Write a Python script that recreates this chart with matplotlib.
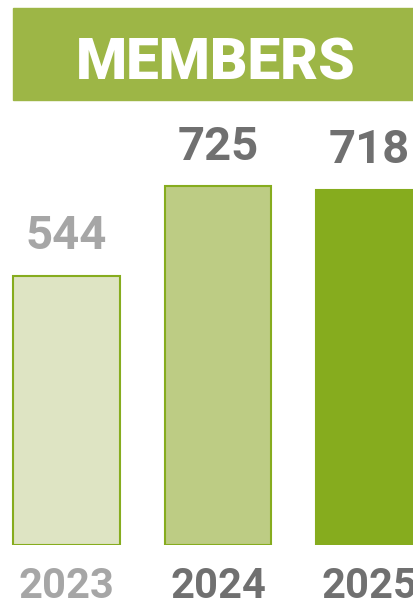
import matplotlib.pyplot as plt
from matplotlib.patches import Rectangle
from matplotlib.transforms import blended_transform_factory

years = ['2023', '2024', '2025']
members = [544, 725, 718]
fills = ['#dee4c3', '#bdcc84', '#86ac1e']
text_cols = ['#a6a6a6', '#707070', '#707070']

W, H = 414, 606
fig = plt.figure(figsize=(W / 100, H / 100), dpi=100)

def fy(py):
    # pixel-from-top -> figure fraction
    return 1 - py / H

# green banner with title
fig.patches.append(Rectangle((13 / W, fy(100)), (W - 13) / W, 92 / H,
                             transform=fig.transFigure, color='#9db646', zorder=0))
fig.text(216 / W, fy(80), 'MEMBERS', color='white', fontsize=42,
         fontweight='black', family='Roboto',
         ha='center', va='baseline')

# bar area
ax = fig.add_axes([0, fy(545), 1, (545 - 100) / H])
ax.set_xlim(-66.5 / 151.5, (W - 66.5) / 151.5)
ax.set_ylim(0, 445 / 0.495)
ax.axis('off')

x = range(len(years))
ax.bar(x, members, width=0.706, color=fills, edgecolor='#86ac1e', linewidth=1.5)

for i, v in enumerate(members):
    ax.annotate(str(v), (i, v), xytext=(0, 19), textcoords='offset points',
                ha='center', va='baseline', fontsize=34, fontweight='bold',
                family='Roboto', color=text_cols[i])

tr = blended_transform_factory(ax.transData, fig.transFigure)
for i, y in enumerate(years):
    ax.text(i, fy(598), y, transform=tr, ha='center', va='baseline',
            fontsize=30, fontweight='bold', family='Roboto', color=text_cols[i],
            clip_on=False)

fig.savefig('out.png', dpi=100)
